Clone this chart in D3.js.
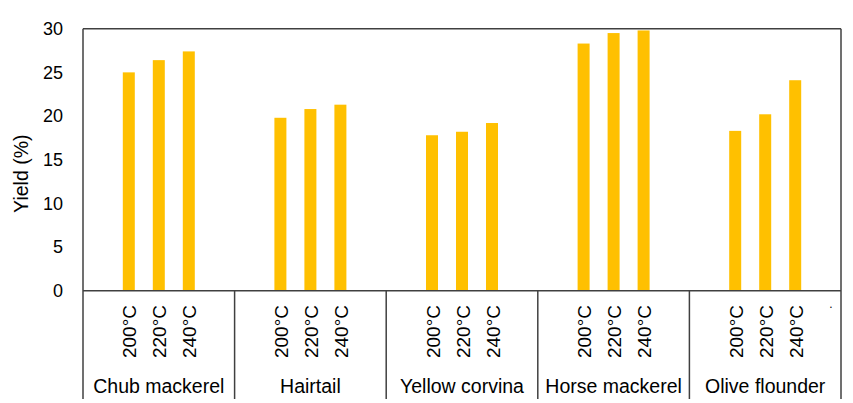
<!DOCTYPE html>
<html><head><meta charset="utf-8">
<script src="https://cdn.jsdelivr.net/npm/d3@7"></script>
<style>body{margin:0;background:#fff}svg{display:block}</style>
</head><body><svg id="c" width="853" height="403"></svg>
<script>
const species = ["Chub mackerel","Hairtail","Yellow corvina","Horse mackerel","Olive flounder"];
const temps = ["200°C","220°C","240°C"];
const y200 = [25.0, 19.8, 17.8, 28.3, 18.3];
const y220 = [26.4, 20.8, 18.2, 29.5, 20.2];
const y240 = [27.4, 21.3, 19.2, 29.8, 24.1];
const yTicks = [0,5,10,15,20,25,30];
const series = [y200, y220, y240];

const svg = d3.select("#c");
const L = 83, R = 841, T = 28.7, B = 290.7, bottomEnd = 399;
const x0 = d3.scaleBand().domain(species).range([L, R]).padding(0);
const bw = x0.bandwidth();
const x1 = d3.scalePoint().domain(temps).range([bw/2 - 30, bw/2 + 30]);
const y = d3.scaleLinear().domain([0,30]).range([B, T]);
const line = "#404040";
const font = "Liberation Sans, Arial, sans-serif";

// bars
const g = svg.append("g");
species.forEach((s,i) => {
  temps.forEach((t,j) => {
    const v = series[j][i];
    g.append("rect")
      .attr("x", x0(s) + x1(t) - 6)
      .attr("width", 12)
      .attr("y", y(v)).attr("height", y(0) - y(v))
      .attr("fill", "#FFC000");
  });
});

// frame
const ln = (a,b,c,d) => svg.append("line").attr("x1", a).attr("x2", b).attr("y1", c).attr("y2", d).attr("stroke", line).attr("stroke-width", 1.5);
ln(L, R, T, T);
ln(L, R, B, B);
ln(L, L, T, bottomEnd);
ln(R, R, T, bottomEnd);
species.slice(1).forEach(s => ln(x0(s), x0(s), B, bottomEnd));

// y axis labels
const yAxis = d3.axisLeft(y).tickValues(yTicks).tickSize(0).tickPadding(20);
const ya = svg.append("g").attr("transform", `translate(${L},0)`).call(yAxis);
ya.select(".domain").remove();
ya.selectAll("text").attr("font-family", font).attr("font-size", 18).attr("fill", "#000");

svg.append("text").attr("transform", `translate(28,${(T+B)/2 + 14}) rotate(-90)`)
  .attr("text-anchor", "middle").attr("font-family", font)
  .attr("font-size", 19.5).attr("fill", "#000").text("Yield (%)");

// temperature labels
species.forEach(s => {
  temps.forEach(t => {
    const cx = x0(s) + x1(t);
    svg.append("text").attr("transform", `translate(${cx + 7.5},305) rotate(-90)`)
      .attr("text-anchor", "end").attr("font-family", font)
      .attr("font-size", 19).attr("fill", "#000").text(t);
  });
  svg.append("text").attr("x", x0(s) + bw/2).attr("y", 392.5)
    .attr("text-anchor", "middle").attr("font-family", font)
    .attr("font-size", 19.5).attr("fill", "#000").text(s);
});
// stray dot
svg.append("text").attr("x", R - 10).attr("y", 308).attr("text-anchor", "middle")
  .attr("font-family", font).attr("font-size", 12).attr("fill", "#000").text(".");
</script></body></html>
